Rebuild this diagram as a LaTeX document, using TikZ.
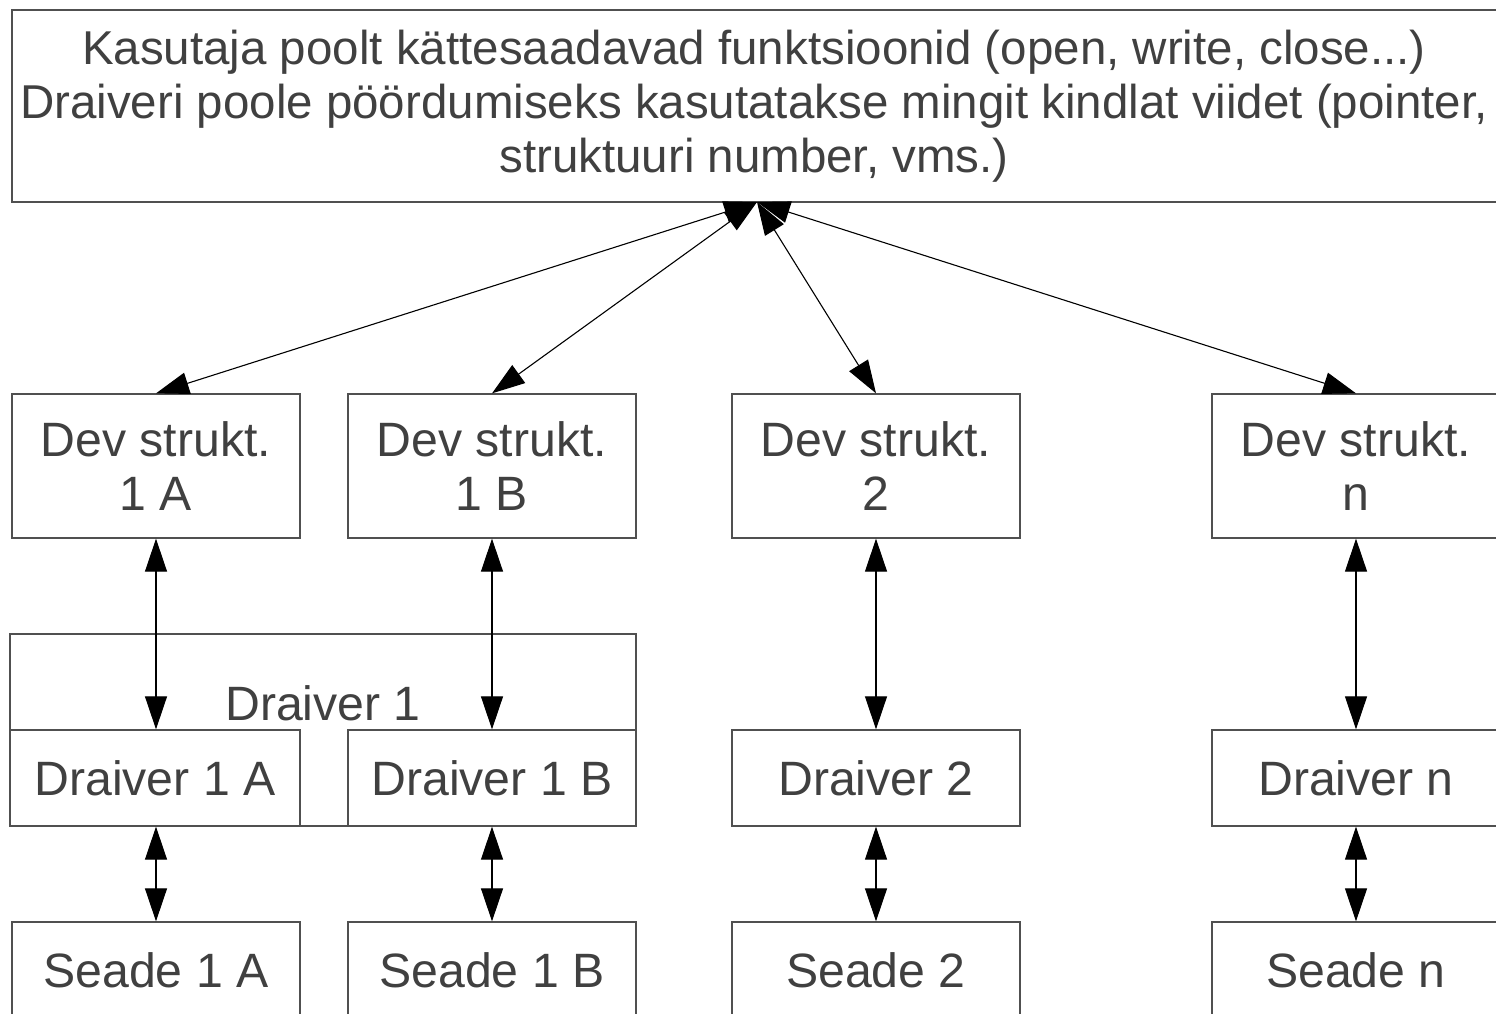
\documentclass[tikz,border=0pt]{standalone}
\usepackage{fontspec}
\setmainfont{Liberation Sans}
\usetikzlibrary{arrows.meta}
\definecolor{txt}{HTML}{404040}
\definecolor{edge}{HTML}{505050}
\begin{document}
\begin{tikzpicture}[x=1pt,y=-1pt,
  lbl/.style={text=txt,font=\fontsize{48.2}{54}\selectfont,inner sep=0pt},
  box/.style={draw=edge,line width=1.3pt,fill=white,inner sep=0pt,align=center,
    lbl,minimum width=288pt},
  devbox/.style={box,minimum height=144pt},
  drvbox/.style={box,minimum height=96pt},
  conn/.style={line width=1.1pt,{Triangle[length=33pt,width=22pt]}-{Triangle[length=33pt,width=22pt]}}
]
\useasboundingbox (0,0) rectangle (1496,1014);
\clip (0,0) rectangle (1496,1014);
\fill[white] (0,0) rectangle (1496,1014);
% top box
\node[box,minimum width=1488pt,minimum height=192pt] (top) at (756,106) {};
\node[lbl,align=center,font=\fontsize{47.5}{54}\selectfont] (toplbl) at (754,106)
  {Kasutaja poolt kättesaadavad funktsioonid (open, write, close...)\\
   Draiveri poole pöördumiseks kasutatakse mingit kindlat viidet (pointer,\\
   struktuuri number, vms.)};
% dev struct row
\node[devbox] (d1a) at (156,466) {Dev strukt.\\1 A};
\node[devbox] (d1b) at (492,466) {Dev strukt.\\1 B};
\node[devbox] (d2)  at (876,466) {Dev strukt.\\2};
\node[devbox] (dn)  at (1356,466) {Dev strukt.\\n};
% big driver 1 box
\node[box,minimum width=626pt,minimum height=192pt] (drv1) at (323,730) {};
\node[lbl] (drv1lbl) at (323,703) {Draiver 1};
% driver row
\node[drvbox,minimum width=290pt] (r1a) at (155,778) {Draiver 1 A};
\node[drvbox] (r1b) at (492,778) {Draiver 1 B};
\node[drvbox] (r2)  at (876,778) {Draiver 2};
\node[drvbox] (rn)  at (1356,778) {Draiver n};
% device row
\node[drvbox,minimum height=192pt] (s1a) at (156,1018) {};
\node[drvbox,minimum height=192pt] (s1b) at (492,1018) {};
\node[drvbox,minimum height=192pt] (s2)  at (876,1018) {};
\node[drvbox,minimum height=192pt] (sn)  at (1356,1018) {};
\node[lbl] (s1al) at (156,970) {Seade 1 A};
\node[lbl] (s1bl) at (492,970) {Seade 1 B};
\node[lbl] (s2l)  at (876,970) {Seade 2};
\node[lbl] (snl)  at (1356,970) {Seade n};
% connectors from top
\coordinate (tc) at (757,202);
\draw[conn] (tc) -- (d1a.north);
\draw[conn] (tc) -- (d1b.north);
\draw[conn] (tc) -- (d2.north);
\draw[conn] (tc) -- (dn.north);
% dev to driver
\draw[conn] (d1a.south) -- (d1a.south |- r1a.north);
\draw[conn] (d1b.south) -- (r1b.north);
\draw[conn] (d2.south) -- (r2.north);
\draw[conn] (dn.south) -- (rn.north);
% driver to device
\draw[conn] (s1a.north |- r1a.south) -- (s1a.north);
\draw[conn] (r1b.south) -- (s1b.north);
\draw[conn] (r2.south) -- (s2.north);
\draw[conn] (rn.south) -- (sn.north);
\end{tikzpicture}
\end{document}
